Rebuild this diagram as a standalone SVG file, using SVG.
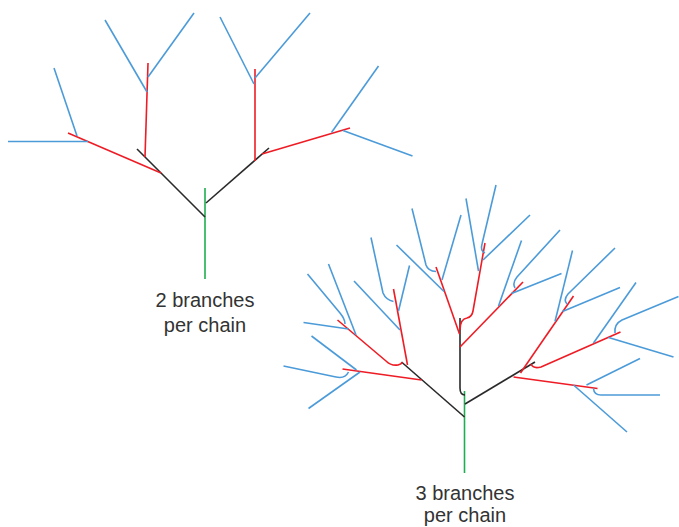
<svg xmlns="http://www.w3.org/2000/svg" width="679" height="527" viewBox="0 0 679 527">
<style>
line,path{fill:none;stroke-width:1.6;stroke-linecap:butt;stroke-linejoin:round}
.g{stroke:#1fae4f}
.k{stroke:#2a2a2a}
.r{stroke:#ee1c25}
.b{stroke:#4c9bd9}
text{font-family:"Liberation Sans",Arial,sans-serif;font-size:20px;fill:#333;text-anchor:middle}
</style>
<rect width="679" height="527" fill="#fff"/>
<g id="tree2">
<g id="t2-trunk"><line class="g" x1="205" y1="188" x2="205" y2="279"/></g>
<g id="t2-level1">
<line class="k" x1="205" y1="217" x2="137" y2="149"/>
<line class="k" x1="206" y1="203" x2="269" y2="148"/>
</g>
<g id="t2-level2">
<line class="r" x1="145" y1="157" x2="148" y2="63"/>
<line class="r" x1="161" y1="173" x2="68" y2="133"/>
<line class="r" x1="255" y1="161" x2="255" y2="69"/>
<line class="r" x1="262" y1="154" x2="350" y2="128"/>
</g>
<g id="t2-level3">
<line class="b" x1="147" y1="92" x2="105" y2="20"/>
<line class="b" x1="148" y1="77" x2="194" y2="13"/>
<line class="b" x1="254" y1="84" x2="220" y2="17"/>
<line class="b" x1="255" y1="78" x2="310" y2="13"/>
<line class="b" x1="77" y1="136" x2="54" y2="68"/>
<line class="b" x1="8" y1="141.5" x2="88" y2="141.5"/>
<line class="b" x1="331.5" y1="132.5" x2="378.5" y2="66"/>
<line class="b" x1="343" y1="130.5" x2="412.5" y2="156"/>
</g>
</g>
<g id="tree3">
<g id="t3-trunk"><line class="g" x1="464.5" y1="391" x2="464.5" y2="473"/></g>
<g id="t3-level1">
<line class="k" x1="464.5" y1="417" x2="401.5" y2="362"/>
<line class="k" x1="465" y1="404" x2="535" y2="362"/>
<path class="k" d="M460,318 V388 Q460,395 465,395"/>
</g>
<g id="t3-level2">
<line class="r" x1="407.5" y1="365" x2="393.5" y2="289"/>
<path class="r" d="M337.5,320 L386,361 Q391,366 398,365 Q402,364 402,362"/>
<line class="r" x1="342.5" y1="369" x2="421.5" y2="380"/>
<line class="r" x1="459.5" y1="334" x2="436" y2="267"/>
<path class="r" d="M460,330 Q460,319 467,318 Q472,317 473,311 L485,243"/>
<line class="r" x1="460" y1="347" x2="523" y2="282"/>
<line class="r" x1="520.5" y1="373" x2="573.5" y2="296"/>
<path class="r" d="M531,364 Q533,369 541,367 L620.5,332"/>
<line class="r" x1="513.5" y1="377" x2="597.5" y2="388.5"/>
</g>
<g id="t3-level3">
<line class="b" x1="308.5" y1="408.5" x2="360" y2="372"/>
<path class="b" d="M283.5,366 L336,377 Q345,379 348.5,372"/>
<line class="b" x1="311.5" y1="336" x2="356.5" y2="370"/>
<line class="b" x1="303.5" y1="322.5" x2="348.5" y2="329"/>
<path class="b" d="M307.5,274 L340,313 Q345,319 345,324"/>
<line class="b" x1="328.5" y1="264" x2="356" y2="335"/>
<line class="b" x1="354" y1="281" x2="400" y2="330"/>
<path class="b" d="M371,237.5 L383,293 Q386,300 393.5,301.5"/>
<line class="b" x1="409.5" y1="265.5" x2="398.5" y2="311"/>
<line class="b" x1="396.5" y1="245" x2="444" y2="291.5"/>
<path class="b" d="M412,208.5 L426,265 Q428,271 436,271.5"/>
<line class="b" x1="461" y1="215" x2="442" y2="280"/>
<line class="b" x1="466" y1="198.5" x2="478.5" y2="271"/>
<path class="b" d="M496,185 L482,244 Q480,251 485,253"/>
<line class="b" x1="530" y1="215" x2="483" y2="260"/>
<line class="b" x1="521.5" y1="240.5" x2="498.5" y2="306"/>
<path class="b" d="M560,230 L517,277 Q512,283 515,288"/>
<line class="b" x1="561.5" y1="273.5" x2="511.5" y2="293.5"/>
<line class="b" x1="572.5" y1="250.5" x2="555" y2="321.5"/>
<path class="b" d="M615,248 L568,294 Q563,300 567,304"/>
<line class="b" x1="620" y1="287.5" x2="562.5" y2="311.5"/>
<line class="b" x1="636" y1="282.5" x2="593.5" y2="343"/>
<path class="b" d="M678.5,296.5 L622,320 Q614,324 615,333"/>
<line class="b" x1="608.5" y1="337.5" x2="673.5" y2="357"/>
<line class="b" x1="640" y1="358.5" x2="586.5" y2="385"/>
<path class="b" d="M593.5,388.5 Q594,395 601,395 L660,395"/>
<line class="b" x1="573.5" y1="385" x2="627" y2="432"/>
</g>
</g>
<g id="labels">
<text x="205" y="307">2 branches</text>
<text x="205" y="332">per chain</text>
<text x="465" y="500">3 branches</text>
<text x="465" y="522">per chain</text>
</g>
</svg>
